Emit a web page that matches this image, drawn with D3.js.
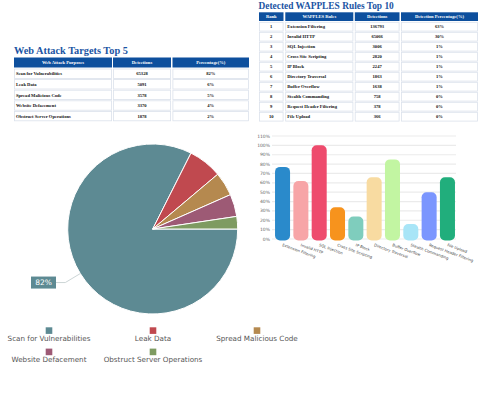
<!DOCTYPE html>
<html><head><meta charset="utf-8">
<script src="https://cdn.jsdelivr.net/npm/d3@7"></script>
<style>body{margin:0;background:#fff}svg{display:block}</style>
</head><body><svg id="c" width="500" height="400"></svg>
<script>
// ---------- DATA ----------
const purposeTitle = "Web Attack Targets Top 5";
const purposeHeaders = ["Web Attack Purposes", "Detections", "Percentage(%)"];
const purposes = ["Scan for Vulnerabilities", "Leak Data", "Spread Malicious Code", "Website Defacement", "Obstruct Server Operations"];
const purposeDetections = [65328, 5091, 3578, 3370, 1878];
const purposePercents = ["82%", "6%", "5%", "4%", "2%"];

const ruleTitle = "Detected WAPPLES Rules Top 10";
const ruleHeaders = ["Rank", "WAPPLES Rules", "Detections", "Detection Percentage(%)"];
const ruleRanks = [1, 2, 3, 4, 5, 6, 7, 8, 9, 10];
const rules = ["Extension Filtering", "Invalid HTTP", "SQL Injection", "Cross Site Scripting", "IP Block", "Directory Traversal", "Buffer Overflow", "Stealth Commanding", "Request Header Filtering", "File Upload"];
const ruleDetections = [136793, 65066, 3006, 2820, 2247, 1863, 1638, 758, 378, 366];
const rulePercents = ["63%", "30%", "1%", "1%", "1%", "1%", "1%", "0%", "0%", "0%"];

const barValues = [77, 62, 100, 34, 24, 66, 85, 16, 50, 66];
const barColors = ["#2a8acb", "#f7a5a7", "#ee4b6d", "#f7931d", "#7fcdbd", "#f8dba1", "#c2f5a2", "#a8e5f7", "#7b96fe", "#21ae7c"];
const yTickValues = [0, 10, 20, 30, 40, 50, 60, 70, 80, 90, 100, 110];

const pieColors = ["#5d8a93", "#c0494f", "#b5894f", "#9d5a75", "#7e9b61"];

// ---------- DRAW ----------
const svg = d3.select("#c");
const serif = "'Liberation Serif', 'DejaVu Serif', serif";
const sans = "'DejaVu Sans', sans-serif";
const titleColor = "#1b54a3";
const headFill = "#0d4f9d";

function drawTable(cols, headY, headH, rowY0, rowH, headers, rows, aligns) {
  const g = svg.append("g");
  headers.forEach((h, i) => {
    g.append("rect").attr("x", cols[i][0]).attr("y", headY).attr("width", cols[i][1] - cols[i][0]).attr("height", headH).attr("fill", headFill);
    g.append("text").attr("x", (cols[i][0] + cols[i][1]) / 2).attr("y", headY + headH / 2).attr("dy", "0.35em")
      .attr("text-anchor", "middle").attr("fill", "#fff").attr("font-family", serif).attr("font-weight", "bold").attr("font-size", 4.6).text(h);
  });
  const yRow = d3.scaleBand().domain(d3.range(rows.length)).range([rowY0, rowY0 + rowH * rows.length]);
  rows.forEach((r, ri) => {
    r.forEach((v, ci) => {
      g.append("rect").attr("x", cols[ci][0] + 0.4).attr("y", yRow(ri) + 0.6).attr("width", cols[ci][1] - cols[ci][0] - 0.8).attr("height", yRow.bandwidth() - 1.2)
        .attr("fill", "#fff").attr("stroke", "#dbe2ec").attr("stroke-width", 0.8);
      const left = aligns[ci] === "start";
      g.append("text").attr("x", left ? cols[ci][0] + 2 : (cols[ci][0] + cols[ci][1]) / 2).attr("y", yRow(ri) + yRow.bandwidth() / 2).attr("dy", "0.35em")
        .attr("text-anchor", left ? "start" : "middle").attr("fill", "#111").attr("font-family", serif).attr("font-weight", "bold").attr("font-size", 4.6).text(v);
    });
  });
}

// Titles
svg.append("text").attr("x", 14).attr("y", 53.5).attr("font-family", serif).attr("font-weight", "bold").attr("font-size", 10.3).attr("fill", titleColor).text(purposeTitle);
svg.append("text").attr("x", 258.5).attr("y", 9).attr("font-family", serif).attr("font-weight", "bold").attr("font-size", 9.4).attr("fill", titleColor).text(ruleTitle);

// Table 1
drawTable([[14, 112], [113, 171], [172.5, 249]], 57.5, 10, 68.4, 10.6, purposeHeaders,
  purposes.map((p, i) => [p, purposeDetections[i], purposePercents[i]]), ["start", "middle", "middle"]);
// Table 2
drawTable([[259, 283.5], [285.3, 353.3], [354.8, 399.5], [401, 478]], 12.3, 8.7, 21.7, 10, ruleHeaders,
  rules.map((r, i) => [ruleRanks[i], r, ruleDetections[i], rulePercents[i]]), ["middle", "start", "middle", "middle"]);

// Bar chart
const yB = d3.scaleLinear().domain([0, 110]).range([239, 136]);
const xB = d3.scaleBand().domain(rules).range([274.3, 455.7]).paddingInner(0.18).paddingOuter(0.04);
const gB = svg.append("g");
gB.selectAll("line.grid").data(yTickValues).join("line").attr("class", "grid")
  .attr("x1", 272).attr("x2", 456).attr("y1", d => yB(d)).attr("y2", d => yB(d)).attr("stroke", "#ebebeb").attr("stroke-width", 1.2);
gB.selectAll("text.yt").data(yTickValues).join("text").attr("class", "yt")
  .attr("x", 270).attr("y", d => yB(d)).attr("dy", "0.35em").attr("text-anchor", "end")
  .attr("font-family", sans).attr("font-size", 4.5).attr("fill", "#666").text(d => d + "%");
gB.selectAll("rect.bar").data(barValues).join("rect").attr("class", "bar")
  .attr("x", (d, i) => xB(rules[i])).attr("width", xB.bandwidth())
  .attr("y", d => yB(d)).attr("height", d => yB(0) - yB(d) + 1.5)
  .attr("rx", 5).attr("ry", 5).attr("fill", (d, i) => barColors[i]);
gB.selectAll("text.xl").data(rules).join("text").attr("class", "xl")
  .attr("transform", d => `translate(${xB(d) + xB.bandwidth() / 2 - 0.5},${246}) rotate(20)`)
  .attr("font-family", sans).attr("font-size", 3.8).attr("fill", "#444").text(d => d);

// Pie
const cx = 152.7, cy = 229, R = 85;
const pie = d3.pie().sort(null).startAngle(Math.PI / 2).endAngle(Math.PI / 2 + 2 * Math.PI);
const arcs = pie(purposeDetections);
const arc = d3.arc().innerRadius(0).outerRadius(R);
const gP = svg.append("g").attr("transform", `translate(${cx},${cy})`);
gP.selectAll("path").data(arcs).join("path").attr("d", arc).attr("fill", (d, i) => pieColors[i]).attr("stroke", "#fff").attr("stroke-width", 1);

// Label for biggest slice
const big = arcs[0];
const mid = (big.startAngle + big.endAngle) / 2;
const px = cx + R * Math.sin(mid), py = cy - R * Math.cos(mid);
const boxX = 31, boxW = 25, boxH = 12, lineY = py + 9;
svg.append("polyline").attr("points", `${px},${py} ${px - 15},${lineY} ${boxX + boxW},${lineY}`)
  .attr("fill", "none").attr("stroke", "#ccd5d6").attr("stroke-width", 1);
svg.append("rect").attr("x", boxX).attr("y", lineY - boxH / 2).attr("width", boxW).attr("height", boxH).attr("fill", pieColors[0]);
svg.append("text").attr("x", boxX + boxW / 2).attr("y", lineY).attr("dy", "0.35em").attr("text-anchor", "middle")
  .attr("font-family", sans).attr("font-size", 7.5).attr("fill", "#fff").text(purposePercents[0]);

// Legend
const legCols = [49, 153, 257];
const gL = svg.append("g");
purposes.forEach((p, i) => {
  const col = i % 3, row = Math.floor(i / 3);
  const x = legCols[col], sy = 327.3 + row * 21.3;
  gL.append("rect").attr("x", x - 3.3).attr("y", sy).attr("width", 6.6).attr("height", 6.6).attr("fill", pieColors[i]);
  gL.append("text").attr("x", x).attr("y", sy + 13.5).attr("text-anchor", "middle")
    .attr("font-family", sans).attr("font-size", 7.2).attr("fill", "#555").text(p);
});
</script>
</body></html>
